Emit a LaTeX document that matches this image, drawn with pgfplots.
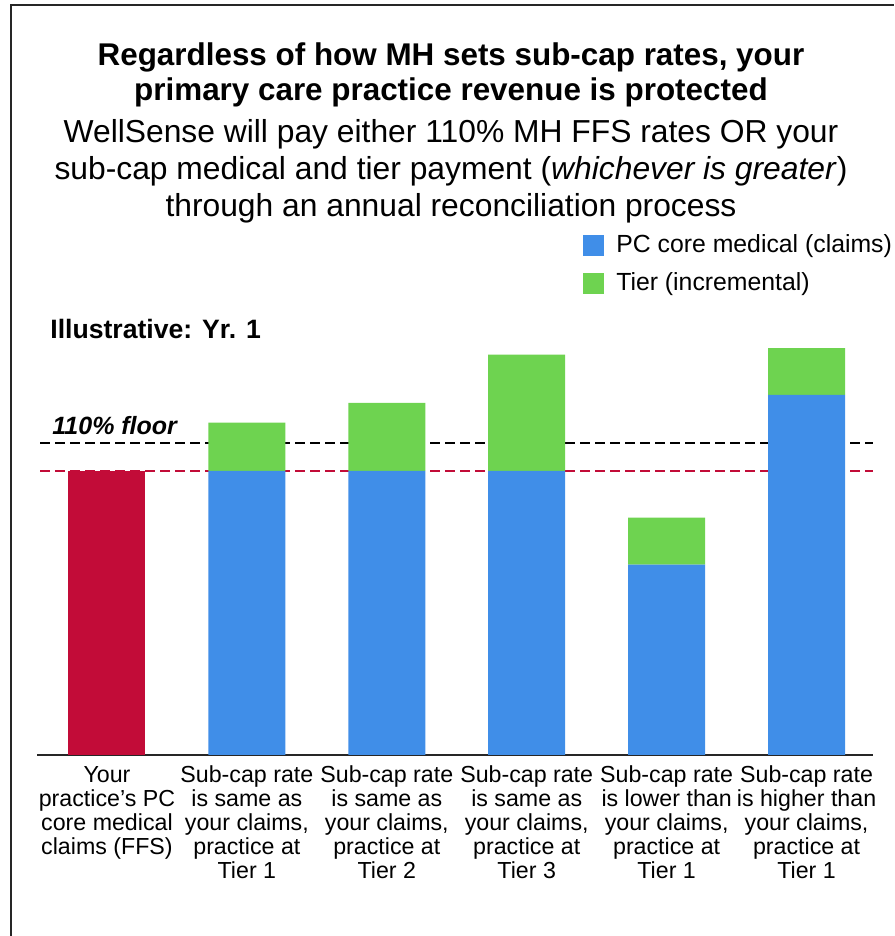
\documentclass[border=0pt]{standalone}
\usepackage{pgfplots}
\pgfplotsset{compat=1.18}
\usepackage{fontspec}
\setmainfont{Liberation Sans}
\definecolor{cred}{RGB}{194,12,56}
\definecolor{cblue}{RGB}{64,142,232}
\definecolor{cgreen}{RGB}{110,211,80}
\begin{document}
\begin{tikzpicture}
\useasboundingbox (0pt,0pt) rectangle (447pt,468pt);
\draw[line width=1pt,black!85] (5.5pt,0pt) -- (5.5pt,465.5pt) -- (447pt,465.5pt);
\node[anchor=base,font=\fontsize{15.7}{17}\selectfont\bfseries] at (225.5pt,435pt) {Regardless of how MH sets sub-cap rates, your};
\node[anchor=base,font=\fontsize{15.7}{17}\selectfont\bfseries] at (225.5pt,417.5pt) {primary care practice revenue is protected};
\node[anchor=base,font=\fontsize{15.9}{17}\selectfont] at (225.5pt,396.5pt) {WellSense will pay either 110\% MH FFS rates OR your};
\node[anchor=base,font=\fontsize{15.9}{17}\selectfont] at (225.5pt,378pt) {sub-cap medical and tier payment (\textit{whichever is greater})};
\node[anchor=base,font=\fontsize{15.9}{17}\selectfont] at (225.5pt,359.5pt) {through an annual reconciliation process};
\node[anchor=base west,inner sep=0pt,font=\fontsize{13.3}{15}\selectfont\bfseries] at (25pt,298.5pt) {Illustrative: Yr. 1};
\node[anchor=base west,inner sep=0pt,font=\fontsize{12.5}{14}\selectfont\bfseries\itshape] at (26pt,250.5pt) {110\% floor};
\begin{axis}[
  at={(18.5pt,90.5pt)}, anchor=south west,
  scale only axis, width=418pt, height=213pt,
  xmin=-0.5, xmax=5.475, ymin=0, ymax=150,
  ybar stacked, bar width=0.55,
  axis x line*=bottom, axis y line=none,
  x axis line style={-, line width=1pt, black!85},
  xtick={0,1,2,3,4,5}, major tick length=0pt,
  xticklabels={{Your\\practice's PC\\core medical\\claims (FFS)},
    {Sub-cap rate\\is same as\\your claims,\\practice at\\Tier 1},
    {Sub-cap rate\\is same as\\your claims,\\practice at\\Tier 2},
    {Sub-cap rate\\is same as\\your claims,\\practice at\\Tier 3},
    {Sub-cap rate\\is lower than\\your claims,\\practice at\\Tier 1},
    {Sub-cap rate\\is higher than\\your claims,\\practice at\\Tier 1}},
  xticklabel style={align=center, font=\fontsize{11.6}{12}\selectfont, anchor=north, yshift=-2pt},
  legend style={at={(axis description cs:0.653,1.232)}, anchor=north west, draw=none, fill=none,
    font=\fontsize{12.4}{14}\selectfont, row sep=4.5pt, inner sep=0pt,
    /tikz/every odd column/.append style={column sep=4pt}},
  legend cell align=left,
  legend image code/.code={\fill[#1] (0,-5.25pt) rectangle (10.5pt,5.25pt);},
  clip=false,
]
\addplot[fill=cred, draw=none, forget plot] coordinates {(0,100) (1,0) (2,0) (3,0) (4,0) (5,0)};
\addplot[fill=cblue, draw=none] coordinates {(0,0) (1,100) (2,100) (3,100) (4,67) (5,126.8)};
\addlegendentry{PC core medical (claims)}
\addplot[fill=cgreen, draw=none] coordinates {(0,0) (1,17) (2,24) (3,41) (4,16.6) (5,16.5)};
\addlegendentry{Tier (incremental)}
\draw[black, line width=1pt, dash pattern=on 5pt off 2.5pt] (axis cs:-0.476,110) -- (axis cs:5.475,110);
\draw[cred, line width=1pt, dash pattern=on 5pt off 2.5pt] (axis cs:-0.476,100) -- (axis cs:5.475,100);
\end{axis}
\end{tikzpicture}
\end{document}
